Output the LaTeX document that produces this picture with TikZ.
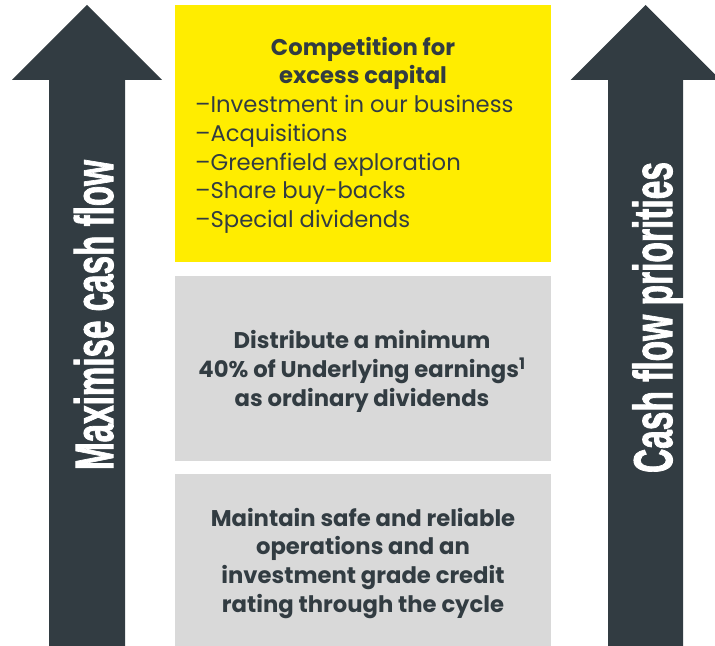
\documentclass[tikz,border=0pt]{standalone}
\usepackage{fontspec}
\setmainfont{Poppins}
\newfontfamily\arrowfont[FakeBold=2]{Liberation Sans Bold}
\definecolor{slate}{HTML}{323C42}
\definecolor{rtyellow}{HTML}{FFED00}
\definecolor{panel}{HTML}{D9D9D9}
\begin{document}
\begin{tikzpicture}[x=1bp,y=-1bp,
  bigarrow/.style={fill=slate, draw=none},
  panelbox/.style={draw=none, inner sep=0pt, minimum width=376bp},
  arrowlabel/.style={text=white, inner sep=0pt, rotate=90, anchor=base,
    font=\arrowfont\fontsize{54}{54}\selectfont},
  boldtext/.style={text=slate, inner sep=0pt, align=center, anchor=base,
    font=\bfseries\fontsize{22.8}{28.75}\selectfont},
  listtext/.style={text=slate, inner sep=0pt, align=left, anchor=base west,
    font=\fontsize{22.8}{28.75}\selectfont}]
\useasboundingbox (0,0) rectangle (715,646);
\clip (0,0) rectangle (715,646);
% arrows
\fill[bigarrow] (49,646) -- (49,80) -- (12,80) -- (87,5) -- (162,80) -- (125,80) -- (125,646) -- cycle;
\fill[bigarrow] (608,646) -- (608,80) -- (570.5,80) -- (645.5,5) -- (720.5,80) -- (683,80) -- (683,646) -- cycle;
\node[arrowlabel] (leftlabel) at (113,315) {\resizebox{310bp}{!}{\scalebox{0.615}[1]{Maximise cash flow}}};
\node[arrowlabel] (rightlabel) at (672,317.5) {\resizebox{311bp}{!}{\scalebox{0.615}[1]{Cash flow priorities}}};
% boxes
\node[panelbox, fill=rtyellow, minimum height=257bp] (capital) at (363,133.5) {};
\node[panelbox, fill=panel, minimum height=185bp] (dividends) at (363,368.5) {};
\node[panelbox, fill=panel, minimum height=172bp] (safety) at (363,560) {};
% texts (base anchor = baseline of the last line)
\node[boldtext] (capitaltitle) at (363,83.75) {Competition for\\excess capital};
\node[listtext] (capitallist) at (195,227.5) {–Investment in our business\\–Acquisitions\\–Greenfield exploration\\–Share buy-backs\\–Special dividends};
\node[boldtext] (dividendstext) at (362,406) {Distribute a minimum\\40\% of Underlying earnings\textsuperscript{1}\\as ordinary dividends};
\node[boldtext] (safetytext) at (363,612) {Maintain safe and reliable\\operations and an\\investment grade credit\\rating through the cycle};
\end{tikzpicture}
\end{document}
